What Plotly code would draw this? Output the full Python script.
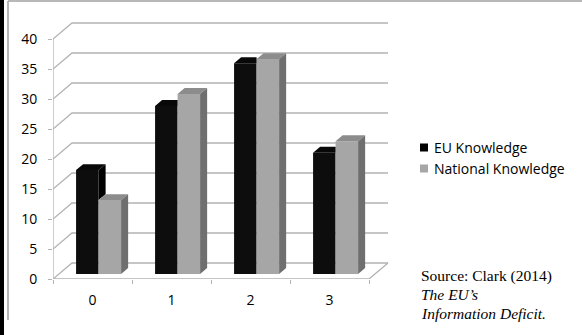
import plotly.graph_objects as go

# ---------------- data ----------------
categories = ["0", "1", "2", "3"]
eu_knowledge = [17.3, 28.0, 35.1, 20.2]
national_knowledge = [12.3, 30.0, 35.8, 22.1]
y_ticks = [0, 5, 10, 15, 20, 25, 30, 35, 40]
series_names = ["EU Knowledge", "National Knowledge"]
source_lines = ["Source: Clark (2014)", "<i>The EU\u2019s</i>", "<i>Information Deficit.</i>"]

# ---------------- layout constants ----------------
W, H = 582, 335
ML, MR, MT, MB = 53, 193, 9, 56
XR = [-0.5, 3.753]
YR = [0, 45]

DX, DY = 0.2405, 2.667      # depth of the back wall (x in category units, y in value units)
BX, BY = 0.077, 0.853       # bar front-face offset into the depth
BW = 0.285                  # bar width
DDX, DDY = 0.089, 0.987     # bar depth

GRID = "#b3b3b3"
BLACK_FRONT, BLACK_TOP, BLACK_SIDE = "#0d0d0d", "#080808", "#000000"
GRAY_FRONT, GRAY_TOP, GRAY_SIDE = "#a6a6a6", "#8c8c8c", "#6f6f6f"
FONT_SANS = "Open Sans"
FONT_SERIF = "Liberation Serif"

pw = W - ML - MR
ph = H - MT - MB


def px_x(px):
    return (px - ML) / pw


def px_y(py):
    return (H - MB - py) / ph


fig = go.Figure()
xs = list(range(len(categories)))
n = len(categories)

# ---- front faces as bars ----
fig.add_trace(go.Bar(x=xs, y=eu_knowledge, base=BY, width=BW, offset=BX - BW,
                     marker=dict(color=BLACK_FRONT, line=dict(width=0)),
                     name=series_names[0], showlegend=False, hoverinfo="skip"))
fig.add_trace(go.Bar(x=xs, y=national_knowledge, base=BY, width=BW, offset=BX,
                     marker=dict(color=GRAY_FRONT, line=dict(width=0)),
                     name=series_names[1], showlegend=False, hoverinfo="skip"))


def poly(pts, color):
    fig.add_trace(go.Scatter(x=[p[0] for p in pts] + [pts[0][0]],
                             y=[p[1] for p in pts] + [pts[0][1]],
                             mode="lines", fill="toself", fillcolor=color,
                             line=dict(width=0, color=color),
                             showlegend=False, hoverinfo="skip"))


# ---- 3D top and side faces ----
for i in xs:
    e, v = eu_knowledge[i], national_knowledge[i]
    # EU (black) bar
    xl, xr = i + BX - BW, i + BX
    et, nt = BY + e, BY + v
    if e >= v:
        poly([(xl, et), (xr, et), (xr + DDX, et + DDY), (xl + DDX, et + DDY)], BLACK_TOP)
        poly([(xr, nt), (xr, et), (xr + DDX, et + DDY), (xr + DDX, nt + DDY)], BLACK_SIDE)
    else:
        poly([(xl, et), (xr, et), (xr, et + DDY), (xl + DDX, et + DDY)], BLACK_TOP)
    # National (gray) bar
    gl, gr = i + BX, i + BX + BW
    poly([(gl, nt), (gr, nt), (gr + DDX, nt + DDY), (gl + DDX, nt + DDY)], GRAY_TOP)
    poly([(gr, BY), (gr, nt), (gr + DDX, nt + DDY), (gr + DDX, BY + DDY)], GRAY_SIDE)

# ---- walls / gridlines (behind the bars) ----
x0, x1 = -0.5, n - 0.5
shapes = []
for t in y_ticks:
    shapes.append(dict(type="path", xref="x", yref="y", layer="below",
                       path=f"M{x0},{t} L{x0 + DX},{t + DY} L{x1 + DX},{t + DY}",
                       line=dict(color=GRID, width=1.3)))
# floor front edge and right diagonal
shapes.append(dict(type="path", xref="x", yref="y", layer="below",
                   path=f"M{x0},0 L{x1},0 L{x1 + DX},{DY}",
                   line=dict(color=GRID, width=1.3)))
# front vertical axis line
shapes.append(dict(type="line", xref="x", yref="y", layer="below",
                   x0=x0, x1=x0, y0=0, y1=max(y_ticks),
                   line=dict(color=GRID, width=1.3)))

# ---- borders of the picture ----
shapes.append(dict(type="rect", xref="paper", yref="paper", layer="above",
                   x0=px_x(0), x1=px_x(4), y0=px_y(H), y1=px_y(0),
                   fillcolor="#000000", line=dict(width=0)))
shapes.append(dict(type="line", xref="paper", yref="paper", layer="above",
                   x0=px_x(8), x1=px_x(8), y0=px_y(320), y1=px_y(1),
                   line=dict(color="#a0a0a0", width=1.5)))
shapes.append(dict(type="line", xref="paper", yref="paper", layer="above",
                   x0=px_x(8), x1=px_x(W), y0=px_y(1), y1=px_y(1),
                   line=dict(color="#a0a0a0", width=1.5)))

# ---- legend (manual) ----
annotations = []
for k, (name, col) in enumerate([(series_names[0], "#000000"), (series_names[1], GRAY_FRONT)]):
    cy = 147.5 + 21 * k
    shapes.append(dict(type="rect", xref="paper", yref="paper",
                       x0=px_x(420), x1=px_x(428), y0=px_y(cy + 4), y1=px_y(cy - 4),
                       fillcolor=col, line=dict(width=0)))
    annotations.append(dict(xref="paper", yref="paper", x=px_x(432), y=px_y(cy),
                            text=name, showarrow=False, xanchor="left", yanchor="middle",
                            font=dict(family=FONT_SANS, size=14, color="#000000")))

# ---- source note ----
for k, line in enumerate(source_lines):
    cy = 276 + 18.5 * k
    annotations.append(dict(xref="paper", yref="paper", x=px_x(419), y=px_y(cy),
                            text=line, showarrow=False, xanchor="left", yanchor="middle",
                            font=dict(family=FONT_SERIF, size=15.5, color="#000000")))

fig.update_layout(
    width=W, height=H,
    margin=dict(l=ML, r=MR, t=MT, b=MB, pad=0),
    paper_bgcolor="white", plot_bgcolor="white",
    barmode="overlay", showlegend=False,
    shapes=shapes, annotations=annotations,
    font=dict(family=FONT_SANS, size=14, color="#000000"),
    xaxis=dict(range=XR, tickmode="array", tickvals=xs, ticktext=categories,
               ticks="", showgrid=False, zeroline=False, showline=False,
               ticklabelstandoff=11,
               minor=dict(tickmode="array", tickvals=[i - 0.5 for i in range(n + 1)],
                          ticks="outside", ticklen=4, tickcolor=GRID, tickwidth=1.3,
                          showgrid=False),
               tickfont=dict(family=FONT_SANS, size=14, color="#000000")),
    yaxis=dict(range=YR, tickmode="array", tickvals=y_ticks,
               ticks="outside", ticklen=4, tickcolor=GRID, tickwidth=1.3,
               showgrid=False, zeroline=False, showline=False,
               ticklabelstandoff=8,
               tickfont=dict(family=FONT_SANS, size=14, color="#000000")),
)

fig.write_html("out.html")
